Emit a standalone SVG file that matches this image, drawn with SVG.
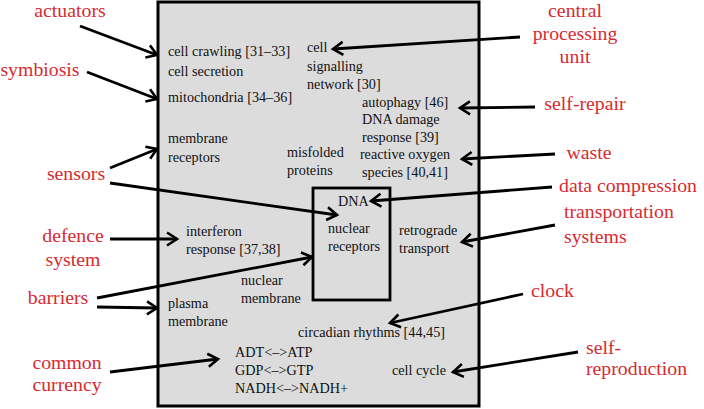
<svg xmlns="http://www.w3.org/2000/svg" width="704" height="409" viewBox="0 0 704 409">
<defs>
<marker id="ah" markerUnits="userSpaceOnUse" markerWidth="16" markerHeight="16" viewBox="0 0 16 16" refX="13" refY="8" orient="auto">
<path d="M3,1.5 L13,8 L3,14.5" fill="none" stroke="#000" stroke-width="2.6" stroke-linejoin="miter"/>
</marker>
<style>
.c{stroke:#000;stroke-width:2.8;fill:none;marker-end:url(#ah)}
</style>
</defs>
<g id="cell" font-family="Liberation Serif, Times New Roman, DejaVu Serif, serif" font-size="14.2" fill="#111">
<rect x="158" y="2" width="321" height="404" fill="#dcdcdc" stroke="#000" stroke-width="3"/>
<text x="168" y="56">cell crawling [31–33]</text>
<text x="168" y="76">cell secretion</text>
<text x="168" y="102">mitochondria [34–36]</text>
<text x="168" y="143">membrane</text>
<text x="168" y="162">receptors</text>
<text x="287" y="157">misfolded</text>
<text x="287" y="175">proteins</text>
<text x="307" y="52">cell</text>
<text x="307" y="71">signalling</text>
<text x="307" y="89">network [30]</text>
<text x="362" y="107">autophagy [46]</text>
<text x="362" y="124">DNA damage</text>
<text x="362" y="142">response [39]</text>
<text x="405" y="159" text-anchor="middle">reactive oxygen</text>
<text x="405" y="177" text-anchor="middle">species [40,41]</text>
<text x="186" y="236">interferon</text>
<text x="186" y="254">response [37,38]</text>
<text x="241" y="285">nuclear</text>
<text x="241" y="303">membrane</text>
<text x="168" y="308">plasma</text>
<text x="168" y="326">membrane</text>
<text x="298" y="337">circadian rhythms [44,45]</text>
<text x="235" y="357">ADT&lt;–&gt;ATP</text>
<text x="235" y="375">GDP&lt;–&gt;GTP</text>
<text x="235" y="393">NADH&lt;–&gt;NADH+</text>
<text x="399" y="235">retrograde</text>
<text x="399" y="253">transport</text>
<text x="392" y="375">cell cycle</text>
</g>
<g id="nucleus" font-family="Liberation Serif, Times New Roman, DejaVu Serif, serif" font-size="14.2" fill="#111">
<rect x="313" y="188" width="77" height="112" fill="none" stroke="#000" stroke-width="2.8"/>
<text x="338" y="206">DNA</text>
<text x="328" y="233">nuclear</text>
<text x="328" y="251">receptors</text>
</g>
<g id="labels" font-family="Liberation Serif, Times New Roman, DejaVu Serif, serif" font-size="19.8" fill="#d62b30">
<text x="70" y="17" text-anchor="middle">actuators</text>
<text x="40" y="76" text-anchor="middle">symbiosis</text>
<text x="76" y="180" text-anchor="middle">sensors</text>
<text x="575" y="17" text-anchor="middle">central</text>
<text x="575" y="40" text-anchor="middle">processing</text>
<text x="575" y="63" text-anchor="middle">unit</text>
<text x="585" y="110" text-anchor="middle">self-repair</text>
<text x="589" y="159" text-anchor="middle">waste</text>
<text x="628" y="192" text-anchor="middle">data compression</text>
<text x="73" y="242" text-anchor="middle">defence</text>
<text x="73" y="266" text-anchor="middle">system</text>
<text x="58" y="304" text-anchor="middle">barriers</text>
<text x="67" y="369" text-anchor="middle">common</text>
<text x="67" y="391" text-anchor="middle">currency</text>
<text x="564" y="218">transportation</text>
<text x="564" y="243">systems</text>
<text x="531" y="297">clock</text>
<text x="586" y="354">self-</text>
<text x="586" y="375">reproduction</text>
</g>
<g id="connectors">
<line class="c" x1="80" y1="26" x2="157" y2="55"/>
<line class="c" x1="87" y1="72" x2="157" y2="99"/>
<line class="c" x1="110" y1="168" x2="157" y2="149"/>
<line class="c" x1="110" y1="183" x2="337" y2="215"/>
<line class="c" x1="520" y1="37" x2="333" y2="49"/>
<line class="c" x1="535" y1="107" x2="460" y2="108"/>
<line class="c" x1="555" y1="154" x2="462" y2="159"/>
<line class="c" x1="552" y1="187" x2="371" y2="201"/>
<line class="c" x1="110" y1="239" x2="177" y2="239"/>
<line class="c" x1="97" y1="298" x2="312" y2="257"/>
<line class="c" x1="97" y1="307" x2="157" y2="308"/>
<line class="c" x1="110" y1="372" x2="218" y2="359"/>
<line class="c" x1="555" y1="225" x2="462" y2="242"/>
<line class="c" x1="523" y1="294" x2="390" y2="323"/>
<line class="c" x1="578" y1="352" x2="453" y2="372"/>
</g>
</svg>
